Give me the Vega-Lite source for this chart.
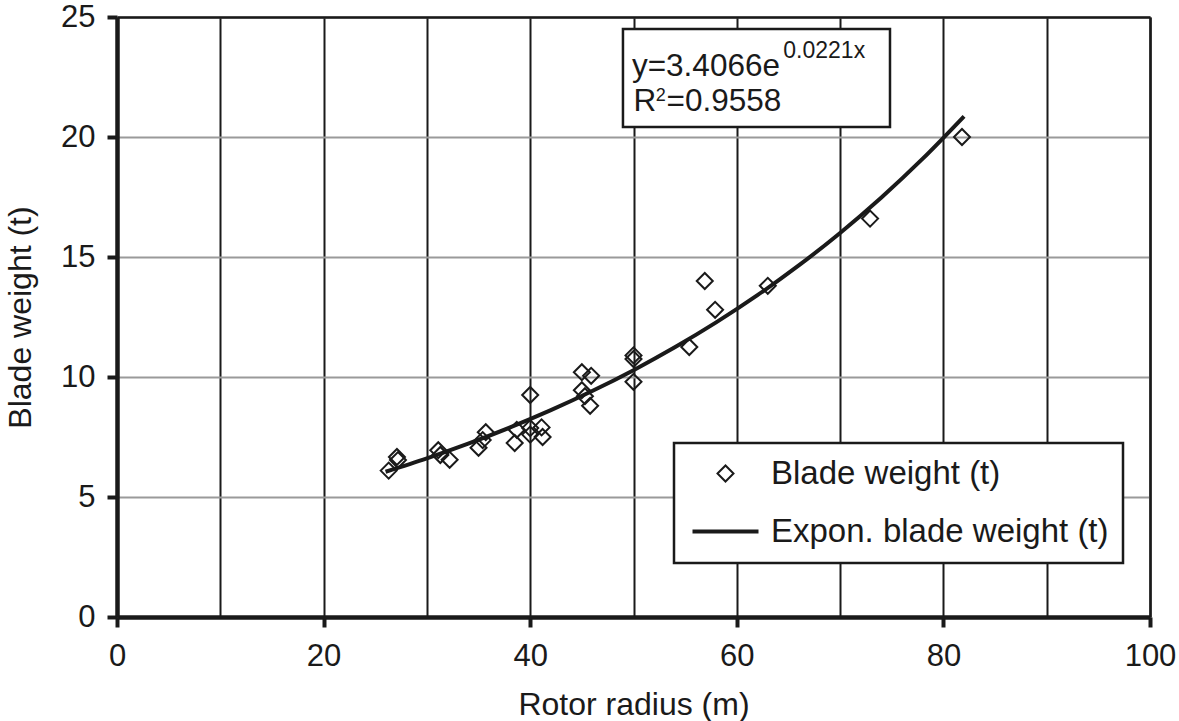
{
  "$schema": "https://vega.github.io/schema/vega-lite/v6.json",
  "width": 1033,
  "height": 600,
  "autosize": "none",
  "padding": {"left": 117, "top": 17, "right": 29, "bottom": 104},
  "background": "white",
  "config": {
    "view": {"stroke": null},
    "font": "Liberation Sans",
    "axis": {"labelFont": "Liberation Sans", "titleFont": "Liberation Sans", "labelColor": "#1a1a1a", "titleColor": "#1a1a1a", "titleFontWeight": "normal"}
  },
  "datasets": {
    "points": [
      {"radius": 26.3, "weight": 6.1},
      {"radius": 27.1, "weight": 6.67},
      {"radius": 27.2, "weight": 6.54},
      {"radius": 31.1, "weight": 6.95},
      {"radius": 31.3, "weight": 6.75},
      {"radius": 32.2, "weight": 6.55},
      {"radius": 35.0, "weight": 7.05},
      {"radius": 35.4, "weight": 7.37},
      {"radius": 35.7, "weight": 7.7},
      {"radius": 38.5, "weight": 7.25},
      {"radius": 38.7, "weight": 7.8},
      {"radius": 40.0, "weight": 9.25},
      {"radius": 40.0, "weight": 7.87},
      {"radius": 40.0, "weight": 7.6},
      {"radius": 41.1, "weight": 7.9},
      {"radius": 41.2, "weight": 7.5},
      {"radius": 45.0, "weight": 10.2},
      {"radius": 45.9, "weight": 10.05},
      {"radius": 45.0, "weight": 9.45},
      {"radius": 45.3, "weight": 9.2},
      {"radius": 45.8, "weight": 8.8},
      {"radius": 50.0, "weight": 10.9},
      {"radius": 50.0, "weight": 10.75},
      {"radius": 50.0, "weight": 9.8},
      {"radius": 55.4, "weight": 11.25},
      {"radius": 56.9, "weight": 14.0},
      {"radius": 57.9, "weight": 12.8},
      {"radius": 63.0, "weight": 13.8},
      {"radius": 72.9, "weight": 16.6},
      {"radius": 81.8, "weight": 20.0}
    ],
    "trend": [
      {"radius": 26, "weight": 6.051},
      {"radius": 30, "weight": 6.611},
      {"radius": 34, "weight": 7.222},
      {"radius": 38, "weight": 7.889},
      {"radius": 42, "weight": 8.618},
      {"radius": 46, "weight": 9.415},
      {"radius": 50, "weight": 10.285},
      {"radius": 54, "weight": 11.236},
      {"radius": 58, "weight": 12.274},
      {"radius": 62, "weight": 13.408},
      {"radius": 66, "weight": 14.648},
      {"radius": 70, "weight": 16.002},
      {"radius": 74, "weight": 17.481},
      {"radius": 78, "weight": 19.096},
      {"radius": 82, "weight": 20.861}
    ]
  },
  "resolve": {"axis": {"x": "independent", "y": "independent"}},
  "layer": [
    {
      "data": {"name": "trend"},
      "mark": {"type": "line", "strokeWidth": 4, "interpolate": "monotone"},
      "encoding": {
        "x": {"field": "radius", "type": "quantitative", "scale": {"domain": [0, 100], "nice": false, "zero": false},
          "axis": {"orient": "top", "values": [0, 10, 20, 30, 40, 50, 60, 70, 80, 90, 100], "labels": false, "ticks": false, "title": null, "grid": true, "gridColor": "#1a1a1a", "gridWidth": 2, "gridOpacity": 1, "domain": true, "domainColor": "#1a1a1a", "domainWidth": 2.5}},
        "y": {"field": "weight", "type": "quantitative", "scale": {"domain": [0, 25], "nice": false, "zero": false},
          "axis": {"orient": "right", "labels": false, "ticks": false, "title": null, "grid": false, "domain": true, "domainColor": "#1a1a1a", "domainWidth": 2.5}},
        "color": {"datum": "Expon. blade weight (t)", "type": "nominal",
          "scale": {"domain": ["Blade weight (t)", "Expon. blade weight (t)"], "range": ["#1a1a1a", "#1a1a1a"]},
          "legend": {
            "orient": "none", "legendX": 557, "legendY": 426, "title": null,
            "fillColor": "white", "strokeColor": "#1a1a1a", "padding": 14,
            "labelFont": "Liberation Sans", "labelFontSize": 33, "labelColor": "#1a1a1a", "labelOffset": 29, "labelLimit": 500,
            "symbolType": "stroke", "symbolSize": 4356, "symbolStrokeWidth": 4, "symbolOffset": 21, "rowPadding": 24,
            "encode": {
              "legend": {"update": {"strokeWidth": {"value": 2.5}}},
              "symbols": {"update": {
                "shape": {"signal": "datum.value === 'Blade weight (t)' ? 'diamond' : 'stroke'"},
                "size": {"signal": "datum.value === 'Blade weight (t)' ? 256 : 4356"},
                "strokeWidth": {"signal": "datum.value === 'Blade weight (t)' ? 2 : 4"},
                "fill": {"value": "transparent"},
                "stroke": {"value": "#1a1a1a"}
              }}
            }
          }}
      }
    },
    {
      "data": {"name": "points"},
      "mark": {"type": "point", "shape": "diamond", "filled": false, "size": 256, "strokeWidth": 2, "opacity": 1},
      "encoding": {
        "x": {"field": "radius", "type": "quantitative", "title": "Rotor radius (m)",
          "axis": {"orient": "bottom", "values": [0, 20, 40, 60, 80, 100], "grid": false, "labelFlush": false, "tickSize": 10, "tickWidth": 4, "tickColor": "#1a1a1a", "domainColor": "#1a1a1a", "domainWidth": 4.5, "labelFontSize": 31, "labelPadding": 14, "titleFontSize": 32, "titlePadding": 18}},
        "y": {"field": "weight", "type": "quantitative", "title": "Blade weight (t)",
          "axis": {"orient": "left", "values": [0, 5, 10, 15, 20, 25], "grid": true, "labelFlush": false, "gridColor": "#9a9a9a", "gridWidth": 2, "gridOpacity": 1, "tickSize": 10, "tickWidth": 4, "tickColor": "#1a1a1a", "domainColor": "#1a1a1a", "domainWidth": 4.5, "labelFontSize": 31, "labelPadding": 12, "titleFontSize": 32, "titlePadding": 23}},
        "color": {"datum": "Blade weight (t)", "type": "nominal"}
      }
    },
    {
      "data": {"values": [{}]},
      "mark": {"type": "rect", "fill": "white", "stroke": "#1a1a1a", "strokeWidth": 2.5},
      "encoding": {
        "x": {"datum": 48.98, "type": "quantitative", "axis": null},
        "x2": {"datum": 74.83},
        "y": {"datum": 24.5, "type": "quantitative", "axis": null},
        "y2": {"datum": 20.42}
      }
    },
    {
      "data": {"values": [{}]},
      "mark": {"type": "text", "text": "y=3.4066e", "font": "Liberation Sans", "fontSize": 31.5, "align": "left", "baseline": "alphabetic", "color": "#1a1a1a"},
      "encoding": {
        "x": {"datum": 49.85, "type": "quantitative", "axis": null},
        "y": {"datum": 22.55, "type": "quantitative", "axis": null}
      }
    },
    {
      "data": {"values": [{}]},
      "mark": {"type": "text", "text": "0.0221x", "font": "Liberation Sans", "fontSize": 23, "align": "left", "baseline": "alphabetic", "color": "#1a1a1a"},
      "encoding": {
        "x": {"datum": 64.5, "type": "quantitative", "axis": null},
        "y": {"datum": 23.29, "type": "quantitative", "axis": null}
      }
    },
    {
      "data": {"values": [{}]},
      "mark": {"type": "text", "text": "R", "font": "Liberation Sans", "fontSize": 31.5, "align": "left", "baseline": "alphabetic", "color": "#1a1a1a"},
      "encoding": {
        "x": {"datum": 50.0, "type": "quantitative", "axis": null},
        "y": {"datum": 21.1, "type": "quantitative", "axis": null}
      }
    },
    {
      "data": {"values": [{}]},
      "mark": {"type": "text", "text": "2", "font": "Liberation Sans", "fontSize": 18, "align": "left", "baseline": "alphabetic", "color": "#1a1a1a"},
      "encoding": {
        "x": {"datum": 52.15, "type": "quantitative", "axis": null},
        "y": {"datum": 21.5, "type": "quantitative", "axis": null}
      }
    },
    {
      "data": {"values": [{}]},
      "mark": {"type": "text", "text": "=0.9558", "font": "Liberation Sans", "fontSize": 31.5, "align": "left", "baseline": "alphabetic", "color": "#1a1a1a"},
      "encoding": {
        "x": {"datum": 53.2, "type": "quantitative", "axis": null},
        "y": {"datum": 21.1, "type": "quantitative", "axis": null}
      }
    }
  ]
}
